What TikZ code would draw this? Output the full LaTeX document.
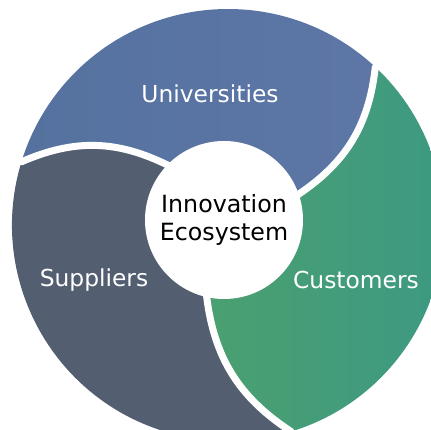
\documentclass[tikz,border=0pt]{standalone}
\usepackage{fontspec}
\setmainfont{DejaVu Sans}
\definecolor{uniblue}{HTML}{7380AB}
\definecolor{unidark}{HTML}{55729F}
\definecolor{uniright}{HTML}{5D76A6}
\definecolor{custgreen}{HTML}{72AC8F}
\definecolor{custleft}{HTML}{4AA070}
\definecolor{custright}{HTML}{3C9884}
\definecolor{supslate}{HTML}{535E71}
\begin{document}
\begin{tikzpicture}[
    gapline/.style={white, line width=0.14cm, line cap=round},
    lbl/.style={white, font=\fontsize{13.3}{16}\selectfont},
    swirl/.style={bend right=25},
    backswirl/.style={bend left=25}
  ]
        \useasboundingbox (-4.56,-4.1) rectangle (4.06,4.5);
        % points where the swirl borders meet the inner and outer circle
        \coordinate (hub) at (-0.08,0.10);
        \coordinate (ia) at (1.39,0.60);
        \coordinate (ib) at (-1.19,1.19);
        \coordinate (ic) at (-0.43,-1.41);
        \coordinate (oa) at (47:4.32);
        \coordinate (ob) at (163:4.32);
        \coordinate (oc) at (287:4.32);
        % the three segments
        \shade[left color=unidark, middle color=uniblue, right color=uniright]
            (ia) to[swirl] (oa) arc[start angle=47, end angle=163, radius=4.32]
            to[backswirl] (ib) -- (hub) -- cycle;
        \shade[left color=custleft, middle color=custgreen, right color=custright]
            (ic) to[swirl] (oc) arc[start angle=-73, end angle=47, radius=4.32]
            to[backswirl] (ia) -- (hub) -- cycle;
        \fill[supslate]
            (ib) to[swirl] (ob) arc[start angle=163, end angle=287, radius=4.32]
            to[backswirl] (ic) -- (hub) -- cycle;
        % white gaps
        \draw[gapline] (ia) to[swirl] (oa);
        \draw[gapline] (ib) to[swirl] (ob);
        \draw[gapline] (ic) to[swirl] (oc);
        \node[circle, fill=white, minimum size=3.16cm, inner sep=0pt, align=center,
              font=\fontsize{13.5}{16}\selectfont] (eco) at (hub) {Innovation\\Ecosystem};
        \node[lbl] (uni) at (-0.36,2.62) {Universities};
        \node[lbl] (sup) at (-2.68,-1.10) {Suppliers};
        \node[lbl] (cust) at (2.56,-1.10) {Customers};
    \end{tikzpicture}
\end{document}
